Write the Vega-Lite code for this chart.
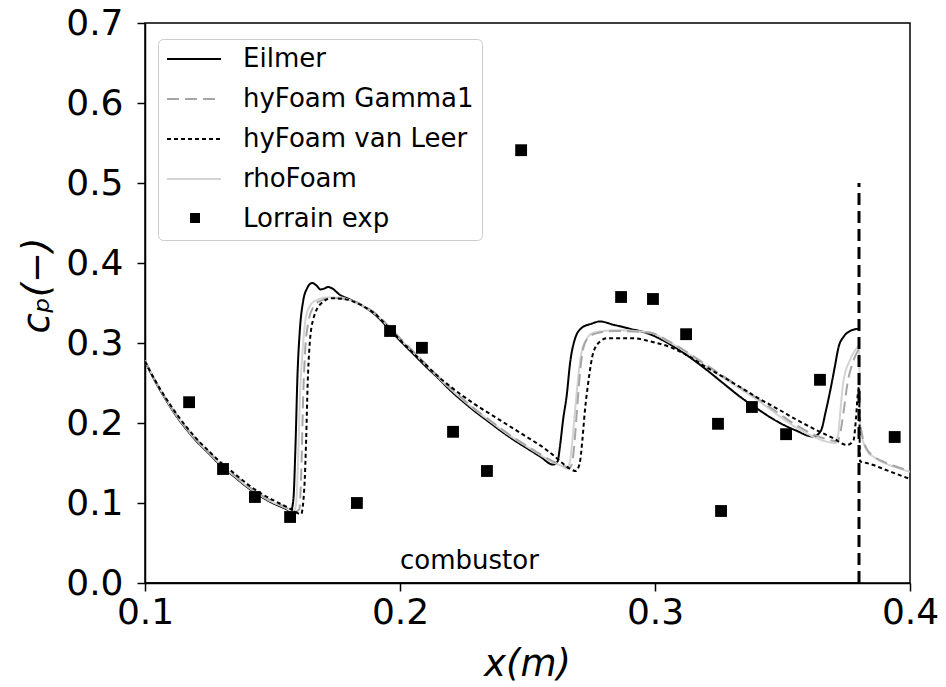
{
  "$schema": "https://vega.github.io/schema/vega-lite/v6.json",
  "width": 765,
  "height": 560,
  "autosize": "none",
  "padding": {"left": 145, "top": 23, "right": 36, "bottom": 104},
  "background": "white",
  "config": {
    "font": "DejaVu Sans",
    "view": {"stroke": "black", "strokeWidth": 1.5},
    "axis": {
      "grid": false,
      "domainColor": "black",
      "domainWidth": 1.5,
      "tickColor": "black",
      "tickWidth": 1.5,
      "tickSize": 8,
      "labelColor": "black",
      "labelFont": "DejaVu Sans",
      "labelFontSize": 36,
      "labelFlush": false,
      "labelOverlap": false,
      "labelBound": false,
      "titleColor": "black",
      "titleFont": "DejaVu Sans",
      "titleFontSize": 37,
      "titleFontWeight": "normal",
      "titleFontStyle": "italic"
    }
  },
  "datasets": {
    "sim": [
      {"series": "Eilmer", "x": 0.100, "cp": 0.277},
      {"series": "Eilmer", "x": 0.104, "cp": 0.252},
      {"series": "Eilmer", "x": 0.108, "cp": 0.230},
      {"series": "Eilmer", "x": 0.112, "cp": 0.210},
      {"series": "Eilmer", "x": 0.116, "cp": 0.193},
      {"series": "Eilmer", "x": 0.120, "cp": 0.178},
      {"series": "Eilmer", "x": 0.125, "cp": 0.162},
      {"series": "Eilmer", "x": 0.130, "cp": 0.146},
      {"series": "Eilmer", "x": 0.135, "cp": 0.133},
      {"series": "Eilmer", "x": 0.140, "cp": 0.120},
      {"series": "Eilmer", "x": 0.145, "cp": 0.109},
      {"series": "Eilmer", "x": 0.150, "cp": 0.100},
      {"series": "Eilmer", "x": 0.155, "cp": 0.093},
      {"series": "Eilmer", "x": 0.1572, "cp": 0.090},
      {"series": "Eilmer", "x": 0.1582, "cp": 0.105},
      {"series": "Eilmer", "x": 0.1590, "cp": 0.170},
      {"series": "Eilmer", "x": 0.1598, "cp": 0.260},
      {"series": "Eilmer", "x": 0.1607, "cp": 0.315},
      {"series": "Eilmer", "x": 0.1620, "cp": 0.352},
      {"series": "Eilmer", "x": 0.1635, "cp": 0.368},
      {"series": "Eilmer", "x": 0.1655, "cp": 0.375},
      {"series": "Eilmer", "x": 0.1672, "cp": 0.372},
      {"series": "Eilmer", "x": 0.1688, "cp": 0.367},
      {"series": "Eilmer", "x": 0.1703, "cp": 0.368},
      {"series": "Eilmer", "x": 0.1718, "cp": 0.370},
      {"series": "Eilmer", "x": 0.1735, "cp": 0.368},
      {"series": "Eilmer", "x": 0.1765, "cp": 0.360},
      {"series": "Eilmer", "x": 0.180, "cp": 0.355},
      {"series": "Eilmer", "x": 0.185, "cp": 0.347},
      {"series": "Eilmer", "x": 0.190, "cp": 0.336},
      {"series": "Eilmer", "x": 0.195, "cp": 0.320},
      {"series": "Eilmer", "x": 0.200, "cp": 0.303},
      {"series": "Eilmer", "x": 0.205, "cp": 0.287},
      {"series": "Eilmer", "x": 0.210, "cp": 0.271},
      {"series": "Eilmer", "x": 0.215, "cp": 0.256},
      {"series": "Eilmer", "x": 0.220, "cp": 0.240},
      {"series": "Eilmer", "x": 0.225, "cp": 0.226},
      {"series": "Eilmer", "x": 0.230, "cp": 0.213},
      {"series": "Eilmer", "x": 0.235, "cp": 0.201},
      {"series": "Eilmer", "x": 0.240, "cp": 0.189},
      {"series": "Eilmer", "x": 0.245, "cp": 0.178},
      {"series": "Eilmer", "x": 0.250, "cp": 0.168},
      {"series": "Eilmer", "x": 0.255, "cp": 0.158},
      {"series": "Eilmer", "x": 0.2600, "cp": 0.148},
      {"series": "Eilmer", "x": 0.2618, "cp": 0.152},
      {"series": "Eilmer", "x": 0.2627, "cp": 0.170},
      {"series": "Eilmer", "x": 0.2640, "cp": 0.205},
      {"series": "Eilmer", "x": 0.2654, "cp": 0.235},
      {"series": "Eilmer", "x": 0.2667, "cp": 0.275},
      {"series": "Eilmer", "x": 0.2686, "cp": 0.305},
      {"series": "Eilmer", "x": 0.2713, "cp": 0.319},
      {"series": "Eilmer", "x": 0.2750, "cp": 0.324},
      {"series": "Eilmer", "x": 0.2784, "cp": 0.327},
      {"series": "Eilmer", "x": 0.2835, "cp": 0.323},
      {"series": "Eilmer", "x": 0.290, "cp": 0.318},
      {"series": "Eilmer", "x": 0.298, "cp": 0.311},
      {"series": "Eilmer", "x": 0.305, "cp": 0.300},
      {"series": "Eilmer", "x": 0.3124, "cp": 0.285},
      {"series": "Eilmer", "x": 0.320, "cp": 0.267},
      {"series": "Eilmer", "x": 0.327, "cp": 0.249},
      {"series": "Eilmer", "x": 0.3333, "cp": 0.233},
      {"series": "Eilmer", "x": 0.340, "cp": 0.218},
      {"series": "Eilmer", "x": 0.349, "cp": 0.200},
      {"series": "Eilmer", "x": 0.355, "cp": 0.191},
      {"series": "Eilmer", "x": 0.3621, "cp": 0.183},
      {"series": "Eilmer", "x": 0.3650, "cp": 0.190},
      {"series": "Eilmer", "x": 0.3670, "cp": 0.215},
      {"series": "Eilmer", "x": 0.3690, "cp": 0.245},
      {"series": "Eilmer", "x": 0.3705, "cp": 0.270},
      {"series": "Eilmer", "x": 0.3720, "cp": 0.295},
      {"series": "Eilmer", "x": 0.3740, "cp": 0.308},
      {"series": "Eilmer", "x": 0.3765, "cp": 0.315},
      {"series": "Eilmer", "x": 0.3800, "cp": 0.318},

      {"series": "rhoFoam", "x": 0.100, "cp": 0.278},
      {"series": "rhoFoam", "x": 0.104, "cp": 0.253},
      {"series": "rhoFoam", "x": 0.108, "cp": 0.231},
      {"series": "rhoFoam", "x": 0.112, "cp": 0.211},
      {"series": "rhoFoam", "x": 0.116, "cp": 0.194},
      {"series": "rhoFoam", "x": 0.120, "cp": 0.179},
      {"series": "rhoFoam", "x": 0.125, "cp": 0.163},
      {"series": "rhoFoam", "x": 0.130, "cp": 0.147},
      {"series": "rhoFoam", "x": 0.135, "cp": 0.134},
      {"series": "rhoFoam", "x": 0.140, "cp": 0.121},
      {"series": "rhoFoam", "x": 0.145, "cp": 0.110},
      {"series": "rhoFoam", "x": 0.150, "cp": 0.101},
      {"series": "rhoFoam", "x": 0.155, "cp": 0.094},
      {"series": "rhoFoam", "x": 0.1582, "cp": 0.089},
      {"series": "rhoFoam", "x": 0.1592, "cp": 0.098},
      {"series": "rhoFoam", "x": 0.1600, "cp": 0.150},
      {"series": "rhoFoam", "x": 0.1608, "cp": 0.235},
      {"series": "rhoFoam", "x": 0.1618, "cp": 0.290},
      {"series": "rhoFoam", "x": 0.1630, "cp": 0.330},
      {"series": "rhoFoam", "x": 0.1648, "cp": 0.347},
      {"series": "rhoFoam", "x": 0.1675, "cp": 0.354},
      {"series": "rhoFoam", "x": 0.1714, "cp": 0.357},
      {"series": "rhoFoam", "x": 0.1765, "cp": 0.357},
      {"series": "rhoFoam", "x": 0.180, "cp": 0.354},
      {"series": "rhoFoam", "x": 0.185, "cp": 0.347},
      {"series": "rhoFoam", "x": 0.190, "cp": 0.337},
      {"series": "rhoFoam", "x": 0.195, "cp": 0.322},
      {"series": "rhoFoam", "x": 0.200, "cp": 0.305},
      {"series": "rhoFoam", "x": 0.205, "cp": 0.289},
      {"series": "rhoFoam", "x": 0.210, "cp": 0.273},
      {"series": "rhoFoam", "x": 0.215, "cp": 0.257},
      {"series": "rhoFoam", "x": 0.220, "cp": 0.242},
      {"series": "rhoFoam", "x": 0.225, "cp": 0.228},
      {"series": "rhoFoam", "x": 0.230, "cp": 0.215},
      {"series": "rhoFoam", "x": 0.235, "cp": 0.203},
      {"series": "rhoFoam", "x": 0.240, "cp": 0.191},
      {"series": "rhoFoam", "x": 0.245, "cp": 0.180},
      {"series": "rhoFoam", "x": 0.250, "cp": 0.170},
      {"series": "rhoFoam", "x": 0.255, "cp": 0.160},
      {"series": "rhoFoam", "x": 0.260, "cp": 0.151},
      {"series": "rhoFoam", "x": 0.2635, "cp": 0.146},
      {"series": "rhoFoam", "x": 0.2654, "cp": 0.143},
      {"series": "rhoFoam", "x": 0.2665, "cp": 0.150},
      {"series": "rhoFoam", "x": 0.2675, "cp": 0.175},
      {"series": "rhoFoam", "x": 0.2685, "cp": 0.210},
      {"series": "rhoFoam", "x": 0.2695, "cp": 0.245},
      {"series": "rhoFoam", "x": 0.2710, "cp": 0.285},
      {"series": "rhoFoam", "x": 0.2730, "cp": 0.304},
      {"series": "rhoFoam", "x": 0.2760, "cp": 0.313},
      {"series": "rhoFoam", "x": 0.285, "cp": 0.316},
      {"series": "rhoFoam", "x": 0.298, "cp": 0.313},
      {"series": "rhoFoam", "x": 0.305, "cp": 0.302},
      {"series": "rhoFoam", "x": 0.3124, "cp": 0.288},
      {"series": "rhoFoam", "x": 0.320, "cp": 0.271},
      {"series": "rhoFoam", "x": 0.327, "cp": 0.256},
      {"series": "rhoFoam", "x": 0.3333, "cp": 0.243},
      {"series": "rhoFoam", "x": 0.340, "cp": 0.229},
      {"series": "rhoFoam", "x": 0.349, "cp": 0.208},
      {"series": "rhoFoam", "x": 0.355, "cp": 0.195},
      {"series": "rhoFoam", "x": 0.362, "cp": 0.183},
      {"series": "rhoFoam", "x": 0.3670, "cp": 0.177},
      {"series": "rhoFoam", "x": 0.3706, "cp": 0.175},
      {"series": "rhoFoam", "x": 0.3718, "cp": 0.185},
      {"series": "rhoFoam", "x": 0.3725, "cp": 0.208},
      {"series": "rhoFoam", "x": 0.3738, "cp": 0.250},
      {"series": "rhoFoam", "x": 0.3765, "cp": 0.279},
      {"series": "rhoFoam", "x": 0.3790, "cp": 0.293},
      {"series": "rhoFoam", "x": 0.3800, "cp": 0.296},
      {"series": "rhoFoam", "x": 0.3804, "cp": 0.200},
      {"series": "rhoFoam", "x": 0.3812, "cp": 0.183},
      {"series": "rhoFoam", "x": 0.3830, "cp": 0.166},
      {"series": "rhoFoam", "x": 0.3860, "cp": 0.157},
      {"series": "rhoFoam", "x": 0.3900, "cp": 0.150},
      {"series": "rhoFoam", "x": 0.3950, "cp": 0.144},
      {"series": "rhoFoam", "x": 0.4000, "cp": 0.139},

      {"series": "hyFoam Gamma1", "x": 0.100, "cp": 0.278},
      {"series": "hyFoam Gamma1", "x": 0.104, "cp": 0.253},
      {"series": "hyFoam Gamma1", "x": 0.108, "cp": 0.231},
      {"series": "hyFoam Gamma1", "x": 0.112, "cp": 0.212},
      {"series": "hyFoam Gamma1", "x": 0.116, "cp": 0.195},
      {"series": "hyFoam Gamma1", "x": 0.120, "cp": 0.180},
      {"series": "hyFoam Gamma1", "x": 0.125, "cp": 0.164},
      {"series": "hyFoam Gamma1", "x": 0.130, "cp": 0.148},
      {"series": "hyFoam Gamma1", "x": 0.135, "cp": 0.135},
      {"series": "hyFoam Gamma1", "x": 0.140, "cp": 0.122},
      {"series": "hyFoam Gamma1", "x": 0.145, "cp": 0.111},
      {"series": "hyFoam Gamma1", "x": 0.150, "cp": 0.102},
      {"series": "hyFoam Gamma1", "x": 0.155, "cp": 0.095},
      {"series": "hyFoam Gamma1", "x": 0.1590, "cp": 0.089},
      {"series": "hyFoam Gamma1", "x": 0.1605, "cp": 0.092},
      {"series": "hyFoam Gamma1", "x": 0.1613, "cp": 0.140},
      {"series": "hyFoam Gamma1", "x": 0.1620, "cp": 0.230},
      {"series": "hyFoam Gamma1", "x": 0.1628, "cp": 0.290},
      {"series": "hyFoam Gamma1", "x": 0.1640, "cp": 0.325},
      {"series": "hyFoam Gamma1", "x": 0.1660, "cp": 0.345},
      {"series": "hyFoam Gamma1", "x": 0.1690, "cp": 0.353},
      {"series": "hyFoam Gamma1", "x": 0.1730, "cp": 0.356},
      {"series": "hyFoam Gamma1", "x": 0.1765, "cp": 0.356},
      {"series": "hyFoam Gamma1", "x": 0.180, "cp": 0.354},
      {"series": "hyFoam Gamma1", "x": 0.185, "cp": 0.348},
      {"series": "hyFoam Gamma1", "x": 0.190, "cp": 0.338},
      {"series": "hyFoam Gamma1", "x": 0.195, "cp": 0.323},
      {"series": "hyFoam Gamma1", "x": 0.200, "cp": 0.306},
      {"series": "hyFoam Gamma1", "x": 0.205, "cp": 0.290},
      {"series": "hyFoam Gamma1", "x": 0.210, "cp": 0.274},
      {"series": "hyFoam Gamma1", "x": 0.215, "cp": 0.258},
      {"series": "hyFoam Gamma1", "x": 0.220, "cp": 0.243},
      {"series": "hyFoam Gamma1", "x": 0.225, "cp": 0.229},
      {"series": "hyFoam Gamma1", "x": 0.230, "cp": 0.216},
      {"series": "hyFoam Gamma1", "x": 0.235, "cp": 0.204},
      {"series": "hyFoam Gamma1", "x": 0.240, "cp": 0.192},
      {"series": "hyFoam Gamma1", "x": 0.245, "cp": 0.181},
      {"series": "hyFoam Gamma1", "x": 0.250, "cp": 0.171},
      {"series": "hyFoam Gamma1", "x": 0.255, "cp": 0.161},
      {"series": "hyFoam Gamma1", "x": 0.260, "cp": 0.152},
      {"series": "hyFoam Gamma1", "x": 0.2640, "cp": 0.147},
      {"series": "hyFoam Gamma1", "x": 0.2665, "cp": 0.144},
      {"series": "hyFoam Gamma1", "x": 0.2675, "cp": 0.150},
      {"series": "hyFoam Gamma1", "x": 0.2685, "cp": 0.178},
      {"series": "hyFoam Gamma1", "x": 0.2695, "cp": 0.220},
      {"series": "hyFoam Gamma1", "x": 0.2705, "cp": 0.260},
      {"series": "hyFoam Gamma1", "x": 0.2720, "cp": 0.295},
      {"series": "hyFoam Gamma1", "x": 0.2740, "cp": 0.307},
      {"series": "hyFoam Gamma1", "x": 0.2770, "cp": 0.312},
      {"series": "hyFoam Gamma1", "x": 0.285, "cp": 0.315},
      {"series": "hyFoam Gamma1", "x": 0.298, "cp": 0.313},
      {"series": "hyFoam Gamma1", "x": 0.305, "cp": 0.303},
      {"series": "hyFoam Gamma1", "x": 0.3124, "cp": 0.289},
      {"series": "hyFoam Gamma1", "x": 0.320, "cp": 0.273},
      {"series": "hyFoam Gamma1", "x": 0.327, "cp": 0.258},
      {"series": "hyFoam Gamma1", "x": 0.3333, "cp": 0.245},
      {"series": "hyFoam Gamma1", "x": 0.340, "cp": 0.231},
      {"series": "hyFoam Gamma1", "x": 0.349, "cp": 0.211},
      {"series": "hyFoam Gamma1", "x": 0.355, "cp": 0.198},
      {"series": "hyFoam Gamma1", "x": 0.362, "cp": 0.186},
      {"series": "hyFoam Gamma1", "x": 0.3670, "cp": 0.180},
      {"series": "hyFoam Gamma1", "x": 0.3715, "cp": 0.177},
      {"series": "hyFoam Gamma1", "x": 0.3728, "cp": 0.190},
      {"series": "hyFoam Gamma1", "x": 0.3740, "cp": 0.215},
      {"series": "hyFoam Gamma1", "x": 0.3755, "cp": 0.250},
      {"series": "hyFoam Gamma1", "x": 0.3775, "cp": 0.275},
      {"series": "hyFoam Gamma1", "x": 0.3795, "cp": 0.290},
      {"series": "hyFoam Gamma1", "x": 0.3800, "cp": 0.292},
      {"series": "hyFoam Gamma1", "x": 0.3804, "cp": 0.205},
      {"series": "hyFoam Gamma1", "x": 0.3812, "cp": 0.186},
      {"series": "hyFoam Gamma1", "x": 0.3830, "cp": 0.168},
      {"series": "hyFoam Gamma1", "x": 0.3860, "cp": 0.158},
      {"series": "hyFoam Gamma1", "x": 0.3900, "cp": 0.151},
      {"series": "hyFoam Gamma1", "x": 0.3950, "cp": 0.145},
      {"series": "hyFoam Gamma1", "x": 0.4000, "cp": 0.140},

      {"series": "hyFoam van Leer", "x": 0.100, "cp": 0.277},
      {"series": "hyFoam van Leer", "x": 0.104, "cp": 0.253},
      {"series": "hyFoam van Leer", "x": 0.108, "cp": 0.232},
      {"series": "hyFoam van Leer", "x": 0.112, "cp": 0.213},
      {"series": "hyFoam van Leer", "x": 0.116, "cp": 0.196},
      {"series": "hyFoam van Leer", "x": 0.120, "cp": 0.181},
      {"series": "hyFoam van Leer", "x": 0.125, "cp": 0.165},
      {"series": "hyFoam van Leer", "x": 0.130, "cp": 0.150},
      {"series": "hyFoam van Leer", "x": 0.135, "cp": 0.137},
      {"series": "hyFoam van Leer", "x": 0.140, "cp": 0.124},
      {"series": "hyFoam van Leer", "x": 0.145, "cp": 0.113},
      {"series": "hyFoam van Leer", "x": 0.150, "cp": 0.104},
      {"series": "hyFoam van Leer", "x": 0.155, "cp": 0.096},
      {"series": "hyFoam van Leer", "x": 0.158, "cp": 0.091},
      {"series": "hyFoam van Leer", "x": 0.1600, "cp": 0.087},
      {"series": "hyFoam van Leer", "x": 0.1612, "cp": 0.086},
      {"series": "hyFoam van Leer", "x": 0.1625, "cp": 0.120},
      {"series": "hyFoam van Leer", "x": 0.1632, "cp": 0.180},
      {"series": "hyFoam van Leer", "x": 0.1638, "cp": 0.250},
      {"series": "hyFoam van Leer", "x": 0.1645, "cp": 0.295},
      {"series": "hyFoam van Leer", "x": 0.1660, "cp": 0.330},
      {"series": "hyFoam van Leer", "x": 0.1693, "cp": 0.350},
      {"series": "hyFoam van Leer", "x": 0.1732, "cp": 0.356},
      {"series": "hyFoam van Leer", "x": 0.178, "cp": 0.355},
      {"series": "hyFoam van Leer", "x": 0.185, "cp": 0.347},
      {"series": "hyFoam van Leer", "x": 0.190, "cp": 0.337},
      {"series": "hyFoam van Leer", "x": 0.195, "cp": 0.321},
      {"series": "hyFoam van Leer", "x": 0.200, "cp": 0.304},
      {"series": "hyFoam van Leer", "x": 0.205, "cp": 0.288},
      {"series": "hyFoam van Leer", "x": 0.210, "cp": 0.273},
      {"series": "hyFoam van Leer", "x": 0.215, "cp": 0.258},
      {"series": "hyFoam van Leer", "x": 0.220, "cp": 0.245},
      {"series": "hyFoam van Leer", "x": 0.225, "cp": 0.233},
      {"series": "hyFoam van Leer", "x": 0.230, "cp": 0.222},
      {"series": "hyFoam van Leer", "x": 0.235, "cp": 0.212},
      {"series": "hyFoam van Leer", "x": 0.240, "cp": 0.202},
      {"series": "hyFoam van Leer", "x": 0.245, "cp": 0.192},
      {"series": "hyFoam van Leer", "x": 0.250, "cp": 0.182},
      {"series": "hyFoam van Leer", "x": 0.255, "cp": 0.172},
      {"series": "hyFoam van Leer", "x": 0.260, "cp": 0.160},
      {"series": "hyFoam van Leer", "x": 0.2640, "cp": 0.149},
      {"series": "hyFoam van Leer", "x": 0.2670, "cp": 0.142},
      {"series": "hyFoam van Leer", "x": 0.2690, "cp": 0.140},
      {"series": "hyFoam van Leer", "x": 0.2705, "cp": 0.150},
      {"series": "hyFoam van Leer", "x": 0.2715, "cp": 0.178},
      {"series": "hyFoam van Leer", "x": 0.2725, "cp": 0.215},
      {"series": "hyFoam van Leer", "x": 0.2738, "cp": 0.250},
      {"series": "hyFoam van Leer", "x": 0.2758, "cp": 0.288},
      {"series": "hyFoam van Leer", "x": 0.2785, "cp": 0.302},
      {"series": "hyFoam van Leer", "x": 0.2811, "cp": 0.306},
      {"series": "hyFoam van Leer", "x": 0.2915, "cp": 0.306},
      {"series": "hyFoam van Leer", "x": 0.298, "cp": 0.302},
      {"series": "hyFoam van Leer", "x": 0.305, "cp": 0.296},
      {"series": "hyFoam van Leer", "x": 0.3124, "cp": 0.285},
      {"series": "hyFoam van Leer", "x": 0.320, "cp": 0.270},
      {"series": "hyFoam van Leer", "x": 0.327, "cp": 0.257},
      {"series": "hyFoam van Leer", "x": 0.3333, "cp": 0.245},
      {"series": "hyFoam van Leer", "x": 0.340, "cp": 0.232},
      {"series": "hyFoam van Leer", "x": 0.349, "cp": 0.216},
      {"series": "hyFoam van Leer", "x": 0.355, "cp": 0.205},
      {"series": "hyFoam van Leer", "x": 0.3621, "cp": 0.193},
      {"series": "hyFoam van Leer", "x": 0.3699, "cp": 0.181},
      {"series": "hyFoam van Leer", "x": 0.3752, "cp": 0.1725},
      {"series": "hyFoam van Leer", "x": 0.3778, "cp": 0.178},
      {"series": "hyFoam van Leer", "x": 0.3788, "cp": 0.205},
      {"series": "hyFoam van Leer", "x": 0.3795, "cp": 0.235},
      {"series": "hyFoam van Leer", "x": 0.3800, "cp": 0.245},
      {"series": "hyFoam van Leer", "x": 0.3804, "cp": 0.152},
      {"series": "hyFoam van Leer", "x": 0.3830, "cp": 0.150},
      {"series": "hyFoam van Leer", "x": 0.3856, "cp": 0.1475},
      {"series": "hyFoam van Leer", "x": 0.3900, "cp": 0.142},
      {"series": "hyFoam van Leer", "x": 0.3950, "cp": 0.136},
      {"series": "hyFoam van Leer", "x": 0.4000, "cp": 0.130}
    ],
    "exp": [
      {"series": "Lorrain exp", "x": 0.1173, "cp": 0.226},
      {"series": "Lorrain exp", "x": 0.1306, "cp": 0.1425},
      {"series": "Lorrain exp", "x": 0.1431, "cp": 0.1075},
      {"series": "Lorrain exp", "x": 0.1569, "cp": 0.0825},
      {"series": "Lorrain exp", "x": 0.1831, "cp": 0.100},
      {"series": "Lorrain exp", "x": 0.1961, "cp": 0.315},
      {"series": "Lorrain exp", "x": 0.2086, "cp": 0.294},
      {"series": "Lorrain exp", "x": 0.2208, "cp": 0.189},
      {"series": "Lorrain exp", "x": 0.2341, "cp": 0.140},
      {"series": "Lorrain exp", "x": 0.2475, "cp": 0.541},
      {"series": "Lorrain exp", "x": 0.2867, "cp": 0.3575},
      {"series": "Lorrain exp", "x": 0.2992, "cp": 0.355},
      {"series": "Lorrain exp", "x": 0.3122, "cp": 0.311},
      {"series": "Lorrain exp", "x": 0.3247, "cp": 0.199},
      {"series": "Lorrain exp", "x": 0.3259, "cp": 0.090},
      {"series": "Lorrain exp", "x": 0.3380, "cp": 0.220},
      {"series": "Lorrain exp", "x": 0.3514, "cp": 0.186},
      {"series": "Lorrain exp", "x": 0.3647, "cp": 0.254},
      {"series": "Lorrain exp", "x": 0.3940, "cp": 0.1825}
    ],
    "combustorEnd": [
      {"x": 0.38, "cp": 0.0, "cp2": 0.5}
    ],
    "combustorFloor": [
      {"x": 0.1, "x2": 0.38, "cp": 0.0}
    ],
    "annotation": [
      {"x": 0.2, "cp": 0.0175, "label": "combustor"}
    ]
  },
  "layer": [
    {
      "data": {"name": "sim"},
      "mark": {"type": "line", "strokeWidth": 2, "interpolate": "monotone", "clip": true},
      "encoding": {
        "x": {
          "field": "x",
          "type": "quantitative",
          "scale": {"domain": [0.1, 0.4], "nice": false, "zero": false},
          "axis": {
            "values": [0.1, 0.2, 0.3, 0.4],
            "format": ".1f",
            "labelPadding": 4,
            "title": "x(m)",
            "titleX": 382,
            "titleY": 92,
            "titleAlign": "center",
            "titleBaseline": "alphabetic"
          }
        },
        "y": {
          "field": "cp",
          "type": "quantitative",
          "scale": {"domain": [0, 0.7], "nice": false, "zero": false},
          "axis": {
            "values": [0, 0.1, 0.2, 0.3, 0.4, 0.5, 0.6, 0.7],
            "format": ".1f",
            "labelPadding": 14,
            "title": "cₚ(−)",
            "titleX": -108,
            "titleY": 262,
            "titleAngle": -90,
            "titleAlign": "center",
            "titleBaseline": "middle"
          }
        },
        "color": {
          "field": "series",
          "type": "nominal",
          "scale": {
            "domain": ["Eilmer", "hyFoam Gamma1", "hyFoam van Leer", "rhoFoam", "Lorrain exp"],
            "range": ["black", "#a6a6a6", "black", "#d3d3d3", "rgba(0,0,0,0)"]
          },
          "legend": {
            "orient": "none",
            "legendX": 13,
            "legendY": 16,
            "title": null,
            "labelFont": "DejaVu Sans",
            "labelFontSize": 26,
            "labelColor": "black",
            "labelLimit": 0,
            "labelOffset": 21,
            "symbolType": "stroke",
            "symbolSize": 2916,
            "symbolStrokeWidth": 2,
            "clipHeight": 24,
            "rowPadding": 14,
            "padding": 8,
            "strokeColor": "#cccccc",
            "cornerRadius": 5
          }
        },
        "strokeDash": {
          "field": "series",
          "type": "nominal",
          "scale": {
            "domain": ["Eilmer", "hyFoam Gamma1", "hyFoam van Leer", "rhoFoam", "Lorrain exp"],
            "range": [[1, 0], [12, 6], [4, 3], [1, 0], [1, 0]]
          },
          "legend": {
            "orient": "none",
            "legendX": 13,
            "legendY": 16,
            "title": null,
            "labelFont": "DejaVu Sans",
            "labelFontSize": 26,
            "labelColor": "black",
            "labelLimit": 0,
            "labelOffset": 21,
            "symbolType": "stroke",
            "symbolSize": 2916,
            "symbolStrokeWidth": 2,
            "clipHeight": 24,
            "rowPadding": 14,
            "padding": 8,
            "strokeColor": "#cccccc",
            "cornerRadius": 5
          }
        },
        "order": {"field": "x", "type": "quantitative"}
      }
    },
    {
      "data": {"name": "exp"},
      "mark": {"type": "point", "filled": true, "opacity": 1, "size": 140, "color": "black"},
      "encoding": {
        "x": {"field": "x", "type": "quantitative"},
        "y": {"field": "cp", "type": "quantitative"},
        "shape": {
          "field": "series",
          "type": "nominal",
          "scale": {"domain": ["Lorrain exp"], "range": ["square"]},
          "legend": {
            "orient": "none",
            "legendX": 37,
            "legendY": 183,
            "title": null,
            "labelExpr": "''",
            "labelFontSize": 26,
            "symbolSize": 100,
            "clipHeight": 24,
            "padding": 0
          }
        }
      }
    },
    {
      "data": {"name": "combustorEnd"},
      "mark": {"type": "rule", "color": "black", "strokeWidth": 3, "strokeDash": [12, 6]},
      "encoding": {
        "x": {"field": "x", "type": "quantitative"},
        "y": {"field": "cp", "type": "quantitative"},
        "y2": {"field": "cp2"}
      }
    },
    {
      "data": {"name": "combustorFloor"},
      "mark": {"type": "rule", "color": "black", "strokeWidth": 1.5},
      "encoding": {
        "x": {"field": "x", "type": "quantitative"},
        "x2": {"field": "x2"},
        "y": {"field": "cp", "type": "quantitative"}
      }
    },
    {
      "data": {"name": "annotation"},
      "mark": {"type": "text", "align": "left", "baseline": "alphabetic", "fontSize": 26, "font": "DejaVu Sans", "color": "black"},
      "encoding": {
        "x": {"field": "x", "type": "quantitative"},
        "y": {"field": "cp", "type": "quantitative"},
        "text": {"field": "label"}
      }
    }
  ]
}
